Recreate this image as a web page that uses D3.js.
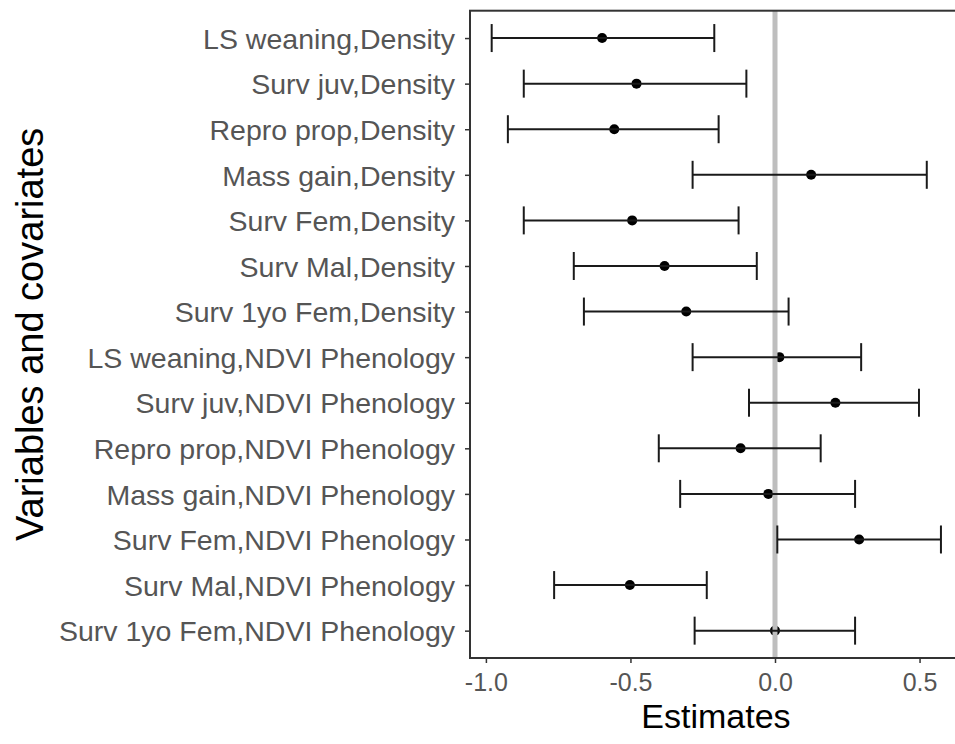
<!DOCTYPE html>
<html>
<head>
<meta charset="utf-8">
<script src="https://cdn.jsdelivr.net/npm/d3@7"></script>
<style>
  body { margin: 0; background: #fff; }
  svg text { font-family: "Liberation Sans", Arial, sans-serif; }
</style>
</head>
<body>
<div id="chart"></div>
<script>
// rows, top to bottom
const labels = [
  "LS weaning,Density",
  "Surv juv,Density",
  "Repro prop,Density",
  "Mass gain,Density",
  "Surv Fem,Density",
  "Surv Mal,Density",
  "Surv 1yo Fem,Density",
  "LS weaning,NDVI Phenology",
  "Surv juv,NDVI Phenology",
  "Repro prop,NDVI Phenology",
  "Mass gain,NDVI Phenology",
  "Surv Fem,NDVI Phenology",
  "Surv Mal,NDVI Phenology",
  "Surv 1yo Fem,NDVI Phenology"
];
const estimates = [-0.598, -0.479, -0.556, 0.125, -0.494, -0.382, -0.307,
                   0.015, 0.209, -0.119, -0.023, 0.291, -0.502, 0.0];
const lower = [-0.98, -0.869, -0.924, -0.285, -0.869, -0.696, -0.661,
               -0.285, -0.09, -0.402, -0.328, 0.008, -0.764, -0.278];
const upper = [-0.21, -0.099, -0.195, 0.525, -0.126, -0.063, 0.047,
               0.298, 0.498, 0.158, 0.277, 0.574, -0.236, 0.277];
const xTicks = [-1.0, -0.5, 0.0, 0.5];

const data = labels.map((l, i) => ({
  label: l, est: estimates[i], lo: lower[i], hi: upper[i]
}));

const width = 955, height = 744;
const panel = { left: 470, top: 10.7, right: 958, bottom: 658 };

const svg = d3.select("#chart").append("svg")
  .attr("width", width)
  .attr("height", height);

svg.append("rect").attr("width", width).attr("height", height).attr("fill", "#fff");

const x = d3.scaleLinear()
  .domain([-1.055, 0.633])
  .range([panel.left, panel.right]);

const y = d3.scalePoint()
  .domain(labels)
  .range([panel.top, panel.bottom])
  .padding(0.6);

// points first, zero line over them, error bars on top
svg.append("g")
  .selectAll("circle")
  .data(data)
  .join("circle")
  .attr("cx", d => x(d.est))
  .attr("cy", d => y(d.label))
  .attr("r", 5)
  .attr("fill", "#000");

svg.append("line")
  .attr("x1", x(0)).attr("x2", x(0))
  .attr("y1", panel.top).attr("y2", panel.bottom)
  .attr("stroke", "#bebebe")
  .attr("stroke-width", 5);

const capHalf = 14;
const bars = svg.append("g")
  .attr("stroke", "#1a1a1a")
  .attr("stroke-width", 2)
  .selectAll("g")
  .data(data)
  .join("g");

bars.append("line")
  .attr("x1", d => x(d.lo)).attr("x2", d => x(d.hi))
  .attr("y1", d => y(d.label)).attr("y2", d => y(d.label));
bars.append("line")
  .attr("x1", d => x(d.lo)).attr("x2", d => x(d.lo))
  .attr("y1", d => y(d.label) - capHalf).attr("y2", d => y(d.label) + capHalf);
bars.append("line")
  .attr("x1", d => x(d.hi)).attr("x2", d => x(d.hi))
  .attr("y1", d => y(d.label) - capHalf).attr("y2", d => y(d.label) + capHalf);

// panel border (right edge falls outside the picture)
svg.append("rect")
  .attr("x", panel.left)
  .attr("y", panel.top)
  .attr("width", panel.right - panel.left)
  .attr("height", panel.bottom - panel.top)
  .attr("fill", "none")
  .attr("stroke", "#333")
  .attr("stroke-width", 2);

// axes
const yAxis = svg.append("g")
  .attr("transform", `translate(${panel.left},0)`)
  .call(d3.axisLeft(y).tickSize(5).tickPadding(10));
yAxis.select(".domain").remove();
yAxis.selectAll("line").attr("stroke", "#333").attr("stroke-width", 1.5);
yAxis.selectAll("text")
  .attr("fill", "#555")
  .style("font-size", "28.5px")
  .attr("dy", "0.36em");

const xAxis = svg.append("g")
  .attr("transform", `translate(0,${panel.bottom})`)
  .call(d3.axisBottom(x).tickValues(xTicks).tickSize(5).tickPadding(10));
xAxis.select(".domain").remove();
xAxis.selectAll("line").attr("stroke", "#333").attr("stroke-width", 1.5);
xAxis.selectAll("text")
  .attr("fill", "#555")
  .style("font-size", "25px")
  .text(d => d3.format(".1f")(d).replace("−", "-"));

// axis titles
svg.append("text")
  .attr("x", 716)
  .attr("y", 728)
  .attr("text-anchor", "middle")
  .attr("fill", "#000")
  .style("font-size", "34px")
  .text("Estimates");

svg.append("text")
  .attr("transform", `translate(43,${(panel.top + panel.bottom) / 2}) rotate(-90)`)
  .attr("text-anchor", "middle")
  .attr("fill", "#000")
  .style("font-size", "38px")
  .text("Variables and covariates");
</script>
</body>
</html>
